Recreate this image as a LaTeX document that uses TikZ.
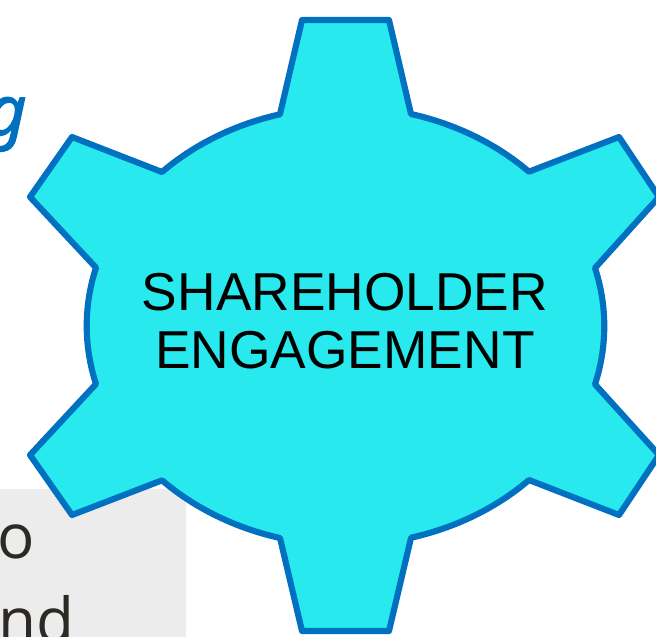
\documentclass[tikz,border=0pt]{standalone}
\usepackage{fontspec}
\setmainfont{Liberation Sans}
\newfontfamily\bluefont[ItalicFeatures={FakeBold=1.6}]{Noto Sans}
\newfontfamily\darkfont{Open Sans}
\definecolor{gearfill}{HTML}{27E9EE}
\definecolor{gearline}{HTML}{0070C0}
\definecolor{panelgray}{HTML}{ECECEC}
\definecolor{inkdark}{HTML}{2D2A26}
\tikzset{
  gearshape/.style={draw=gearline,fill=gearfill,line width=4.4pt,line join=round},
  gearlabel/.style={font=\fontsize{38.4pt}{41.5pt}\selectfont,text=black,align=center,inner sep=0pt},
  darkletters/.style={font=\darkfont\fontsize{44.6pt}{44.6pt}\selectfont,text=inkdark,inner sep=0pt,anchor=base west},
  blueletter/.style={font=\bluefont\itshape\fontsize{50pt}{50pt}\selectfont,text=gearline,inner sep=0pt,anchor=base east}
}
\begin{document}
\begin{tikzpicture}[x=0.72pt,y=-0.72pt]
\useasboundingbox (0,0) rectangle (656,637);
\clip (0,0) rectangle (656,637);
\fill[white] (0,0) rectangle (656,637);
\fill[panelgray] (-5,489) rectangle (186,642);
\node[darkletters] (oword) at (-3,558) {o};
\node[darkletters] (ndword) at (-2,642) {nd};
\node[blueletter] (gword) at (27,135) {g};
\coordinate (gearcentre) at (345.5,326);
\draw[gearshape]
  (302,20) -- (389,20) -- (411,114)
  arc[x radius=259,y radius=-219,start angle=75.2,end angle=44.7] -- (619,137) -- (659,197) -- (595,268)
  arc[x radius=259,y radius=-219,start angle=15.4,end angle=-15.4] -- (659,455) -- (619,515) -- (529,480)
  arc[x radius=259,y radius=-219,start angle=-44.7,end angle=-75.2] -- (389,631) -- (302,631) -- (280,538)
  arc[x radius=259,y radius=-219,start angle=-104.8,end angle=-135.3] -- (72,515) -- (30,455) -- (96,384)
  arc[x radius=259,y radius=-219,start angle=-164.6,end angle=-195.4] -- (30,197) -- (72,137) -- (162,172)
  arc[x radius=259,y radius=-219,start angle=135.3,end angle=104.8] -- cycle;
\node[gearlabel] (gearname) at (345,321) {SHAREHOLDER\\ENGAGEMENT};
\end{tikzpicture}
\end{document}
